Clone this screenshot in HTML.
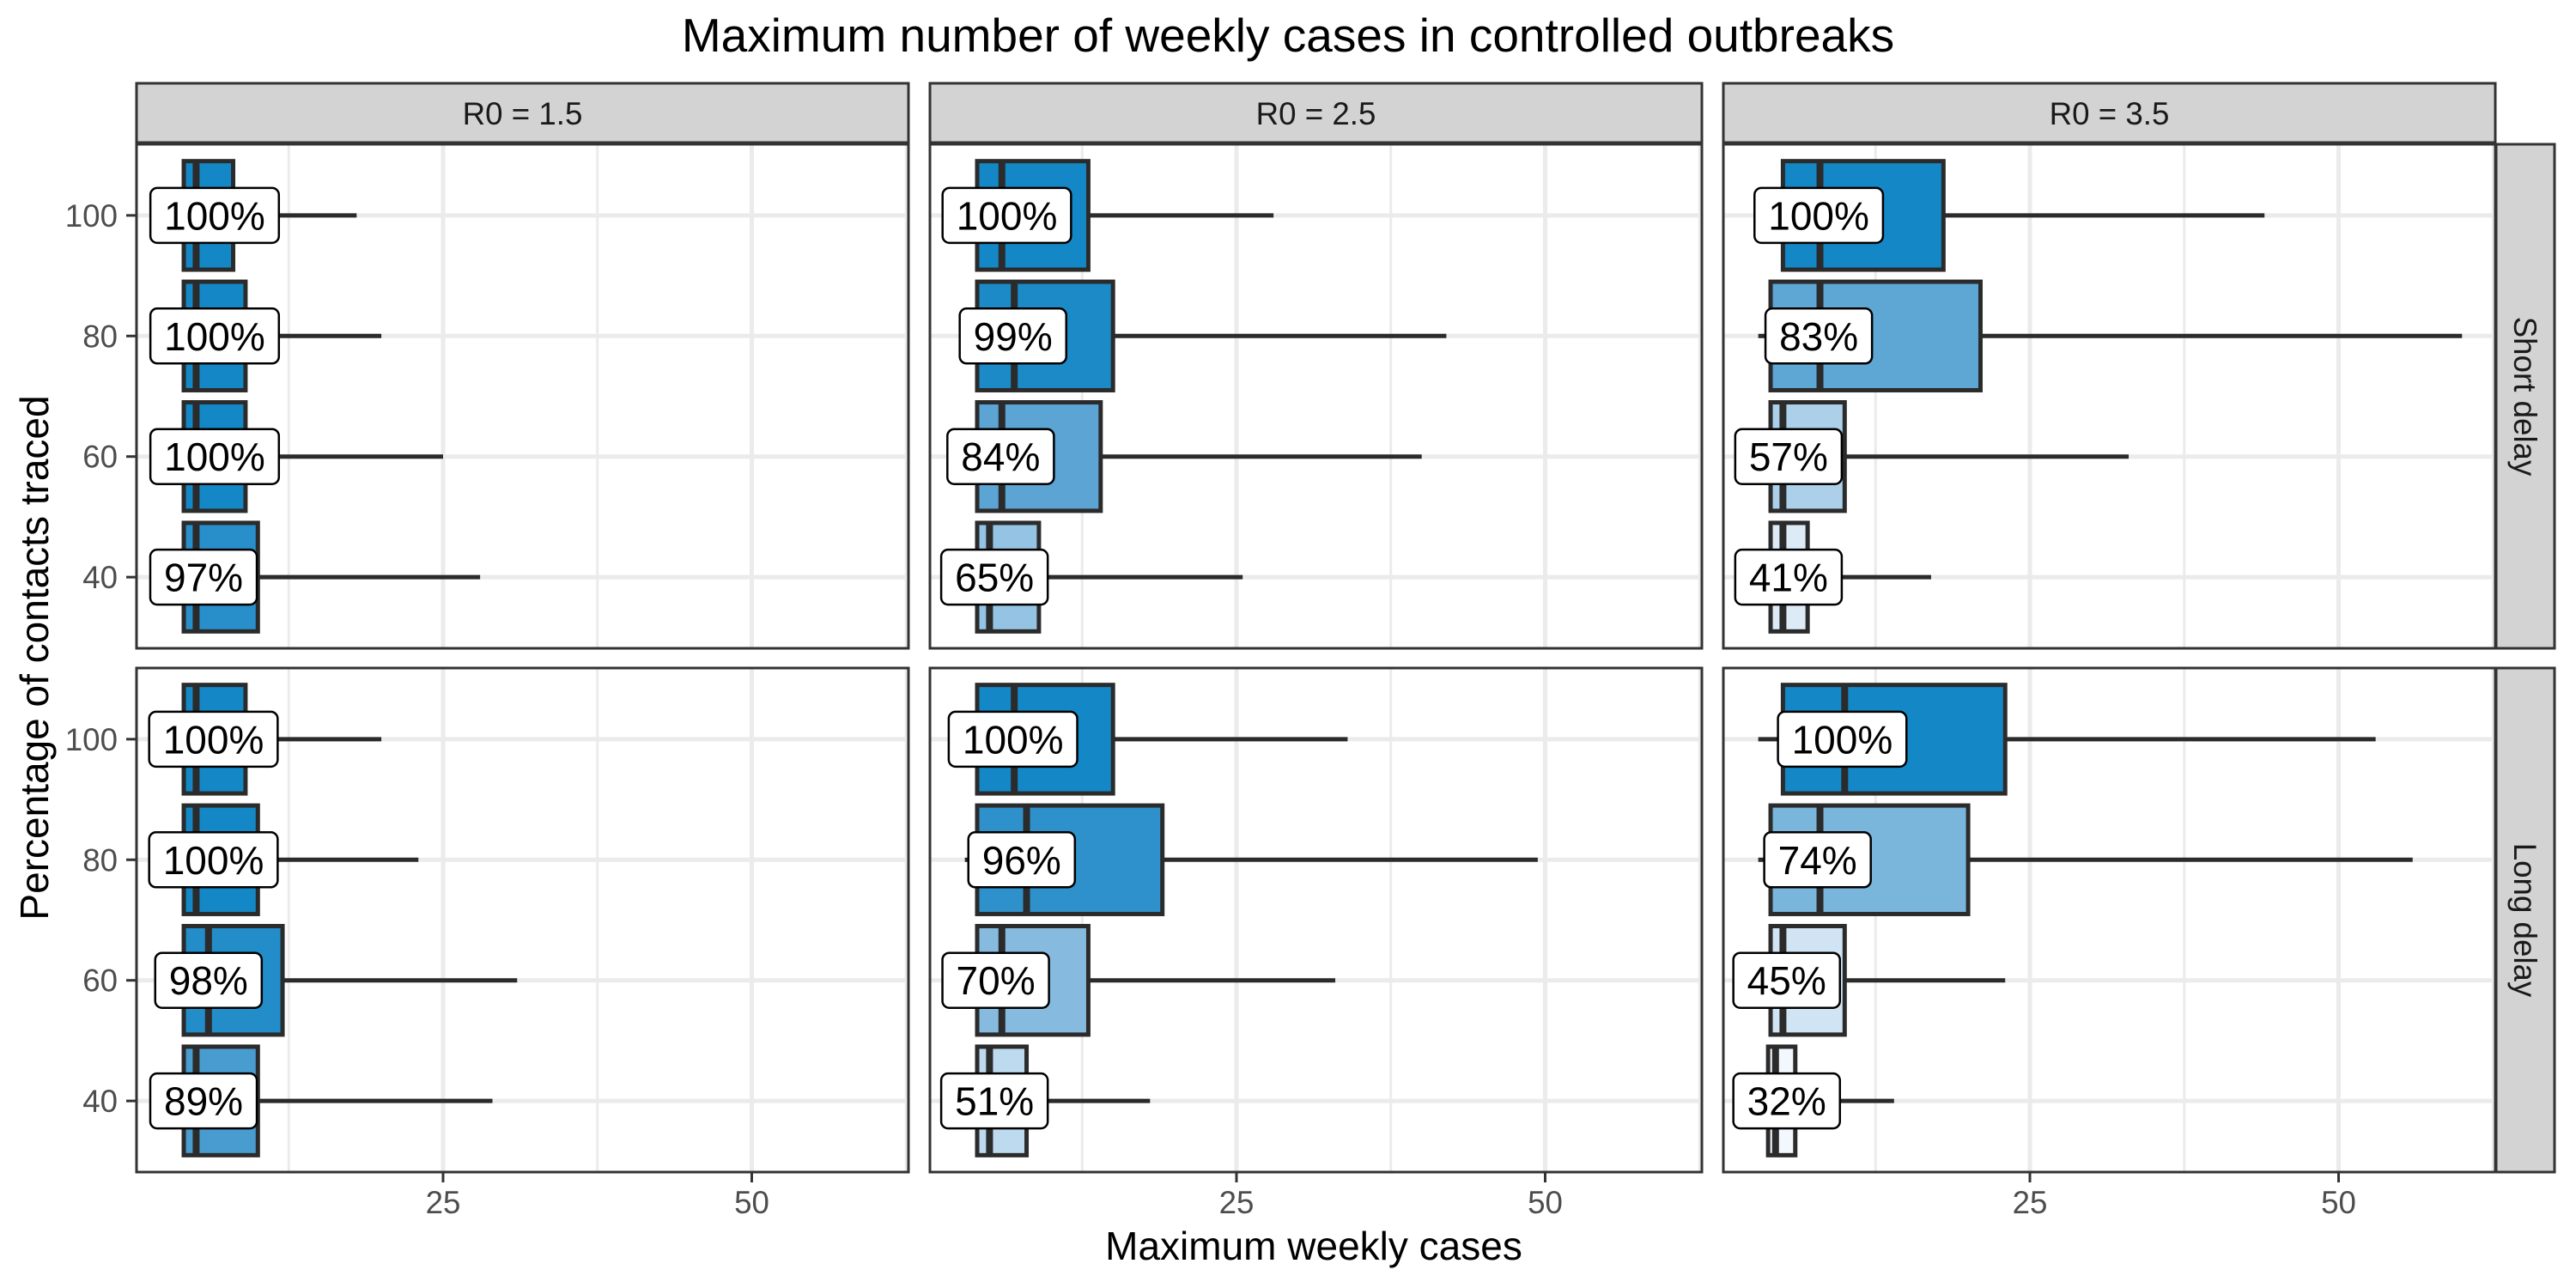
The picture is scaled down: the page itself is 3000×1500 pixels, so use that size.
<!DOCTYPE html>
<html><head><meta charset="utf-8"><style>
html,body{margin:0;padding:0;background:#fff;}
svg{display:block;font-family:"Liberation Sans",Arial,sans-serif;}
</style></head><body>
<svg id="chart" width="3000" height="1500" viewBox="0 0 3000 1500" xmlns="http://www.w3.org/2000/svg">
<text x="1500" y="60" text-anchor="middle" font-size="55" fill="#000">Maximum number of weekly cases in controlled outbreaks</text>
<text x="1530" y="1467" text-anchor="middle" font-size="46" fill="#000">Maximum weekly cases</text>
<text x="0" y="0" transform="translate(56,766) rotate(-90)" text-anchor="middle" font-size="46" fill="#000">Percentage of contacts traced</text>
<g id="plots"></g>
</svg>
<script>
const r0Labels = ["R0 = 1.5", "R0 = 2.5", "R0 = 3.5"];
const delayLabels = ["Short delay", "Long delay"];
const traced = [100, 80, 60, 40];
const xTicks = [25, 50];
const yTicks = [40, 60, 80, 100];
// indexed [row][col][tracedIndex]
const pctControlled = [
  [[100,100,100,97],[100,99,84,65],[100,83,57,41]],
  [[100,100,98,89],[100,96,70,51],[100,74,45,32]]
];
const boxLow = [
  [[4,4,4,4],[4,4,4,4],[5,4,4,4]],
  [[4,4,4,4],[4,4,4,4],[5,4,4,3.8]]
];
const boxHigh = [
  [[8,9,9,10],[13,15,14,9],[18,21,10,7]],
  [[9,10,12,10],[15,19,13,8],[23,20,10,6]]
];
const medians = [
  [[5,5,5,5],[6,7,6,5],[8,8,5,5]],
  [[5,5,6,5],[7,8,6,5],[10,8,5,4.4]]
];
const whiskerLow = [
  [[3,3,3,3],[3,3,3,3],[3,3,3,3]],
  [[3,3,3,3],[3,3,3,3],[3,3,3,3.8]]
];
const whiskerHigh = [
  [[18,20,25,28],[28,42,40,25.5],[44,60,33,17]],
  [[20,23,31,29],[34,49.4,33,18],[53,56,23,14]]
];
const labelX = [
  [[6.5,6.5,6.5,5.6],[6.4,6.9,5.9,5.4],[7.9,7.9,5.45,5.45]],
  [[6.4,6.4,6.0,5.6],[6.9,7.6,5.5,5.4],[9.8,7.8,5.3,5.3]]
];

const NS = "http://www.w3.org/2000/svg";
const root = document.getElementById("plots");
const panelLefts = [159, 1083, 2007], panelW = 899;
const rowTops = [168, 778], panelH = 587;
const pxPerX = 14.38;
const yMin = 28.2, yMax = 111.8;
function xScale(col, v){ return panelLefts[col] - 2.5 + v * pxPerX; }
function yScale(row, v){ return rowTops[row] + (yMax - v) / (yMax - yMin) * panelH; }
const yUnit = panelH / (yMax - yMin);

const stops = [[30,[247,251,255]],[41,[220,235,246]],[57,[172,208,234]],[74,[122,181,220]],[84,[91,164,211]],[96,[47,145,203]],[100,[20,136,198]]];
function fillFor(p){
  for(let i=1;i<stops.length;i++){
    if(p<=stops[i][0]){
      const a=stops[i-1], b=stops[i], t=(p-a[0])/(b[0]-a[0]);
      const c=a[1].map((v,k)=>Math.round(v+(b[1][k]-v)*t));
      return `rgb(${c[0]},${c[1]},${c[2]})`;
    }
  }
  return "rgb(20,136,198)";
}
function mk(tag, attrs, parent){
  const e=document.createElementNS(NS,tag);
  for(const k in attrs) e.setAttribute(k,attrs[k]);
  (parent||root).appendChild(e);
  return e;
}

for(let c=0;c<3;c++){
  const s = mk("rect",{x:panelLefts[c],y:97,width:panelW,height:69,fill:"#d3d3d3",stroke:"#333",["stroke-width"]:3});
  
  
  const st = mk("text",{x:panelLefts[c]+panelW/2,y:145,"text-anchor":"middle","font-size":36.7,fill:"#1a1a1a"});
  st.textContent = r0Labels[c];
  
  
}
for(let r=0;r<2;r++){
  const s = mk("rect",{x:2907,y:rowTops[r],width:68,height:panelH,fill:"#d3d3d3",stroke:"#333",["stroke-width"]:3});
  
  
  const cy = rowTops[r]+panelH/2;
  const st = mk("text",{x:0,y:0,transform:`translate(2928,${cy}) rotate(90)`,"text-anchor":"middle","font-size":36.7,fill:"#1a1a1a"});
  st.textContent = delayLabels[r];
  
  
}

for(let r=0;r<2;r++){
  for(let c=0;c<3;c++){
    const g = mk("g",{});
    
    
    const L=panelLefts[c], T=rowTops[r];
    mk("rect",{x:L,y:T,width:panelW,height:panelH,fill:"#fff"},g);
    const clipId=`clip${r}${c}`;
    const cp=mk("clipPath",{id:clipId},g);
    mk("rect",{x:L,y:T,width:panelW,height:panelH},cp);
    const inner=mk("g",{"clip-path":`url(#${clipId})`},g);
    [12.5,37.5,62.5].forEach(v=>{
      const l=mk("line",{x1:xScale(c,v),x2:xScale(c,v),y1:T,y2:T+panelH,stroke:"#ebebeb","stroke-width":3},inner);
      
      
    });
    xTicks.forEach(v=>{
      const l=mk("line",{x1:xScale(c,v),x2:xScale(c,v),y1:T,y2:T+panelH,stroke:"#ebebeb","stroke-width":5},inner);
      
      
    });
    yTicks.forEach(v=>{
      const l=mk("line",{x1:L,x2:L+panelW,y1:yScale(r,v),y2:yScale(r,v),stroke:"#ebebeb","stroke-width":5},inner);
      
      
    });
    for(let i=0;i<traced.length;i++){
      const yc=yScale(r,traced[i]);
      const bg=mk("g",{},inner);
      
      
      const w1=mk("line",{x1:xScale(c,boxHigh[r][c][i]),x2:xScale(c,whiskerHigh[r][c][i]),y1:yc,y2:yc,stroke:"#2b2b2b","stroke-width":5},bg);
      
      
      const w2=mk("line",{x1:xScale(c,whiskerLow[r][c][i]),x2:xScale(c,boxLow[r][c][i]),y1:yc,y2:yc,stroke:"#2b2b2b","stroke-width":5},bg);
      
      
      const x1=xScale(c,boxLow[r][c][i]), x2=xScale(c,boxHigh[r][c][i]);
      const bx=mk("rect",{x:x1,y:yc-9*yUnit,width:x2-x1,height:18*yUnit,fill:fillFor(pctControlled[r][c][i]),stroke:"#2b2b2b","stroke-width":5},bg);
      
      
      const md=mk("line",{x1:xScale(c,medians[r][c][i]),x2:xScale(c,medians[r][c][i]),y1:yc-9*yUnit,y2:yc+9*yUnit,stroke:"#2b2b2b","stroke-width":8},bg);
      
      
      const lg=mk("g",{},bg);
      
      
      const lx=xScale(c,labelX[r][c][i]);
      const rc=mk("rect",{x:0,y:yc-32,width:10,height:64,rx:8,fill:"#fff",stroke:"#000","stroke-width":2.5},lg);
      const tx=mk("text",{x:lx,y:yc+16.5,"text-anchor":"middle","font-size":46,fill:"#000"},lg);
      tx.textContent=pctControlled[r][c][i]+"%";
      const tw=tx.getComputedTextLength();
      rc.setAttribute("x",lx-tw/2-16);
      rc.setAttribute("width",tw+32);
    }
    const bd=mk("rect",{x:L,y:T,width:panelW,height:panelH,fill:"none",stroke:"#333","stroke-width":3},g);
    
    
    if(c===0){
      yTicks.forEach(v=>{
        const y=yScale(r,v);
        mk("line",{x1:147,x2:L,y1:y,y2:y,stroke:"#333","stroke-width":3},g);
        const t=mk("text",{x:137,y:y+13,"text-anchor":"end","font-size":36.7,fill:"#4d4d4d"},g);
        t.textContent=v;
        
        
      });
    }
    if(r===1){
      xTicks.forEach(v=>{
        const x=xScale(c,v);
        mk("line",{x1:x,x2:x,y1:T+panelH,y2:T+panelH+12,stroke:"#333","stroke-width":3},g);
        const t=mk("text",{x:x,y:1413,"text-anchor":"middle","font-size":36.7,fill:"#4d4d4d"},g);
        t.textContent=v;
        
        
      });
    }
  }
}
</script>
</body></html>
